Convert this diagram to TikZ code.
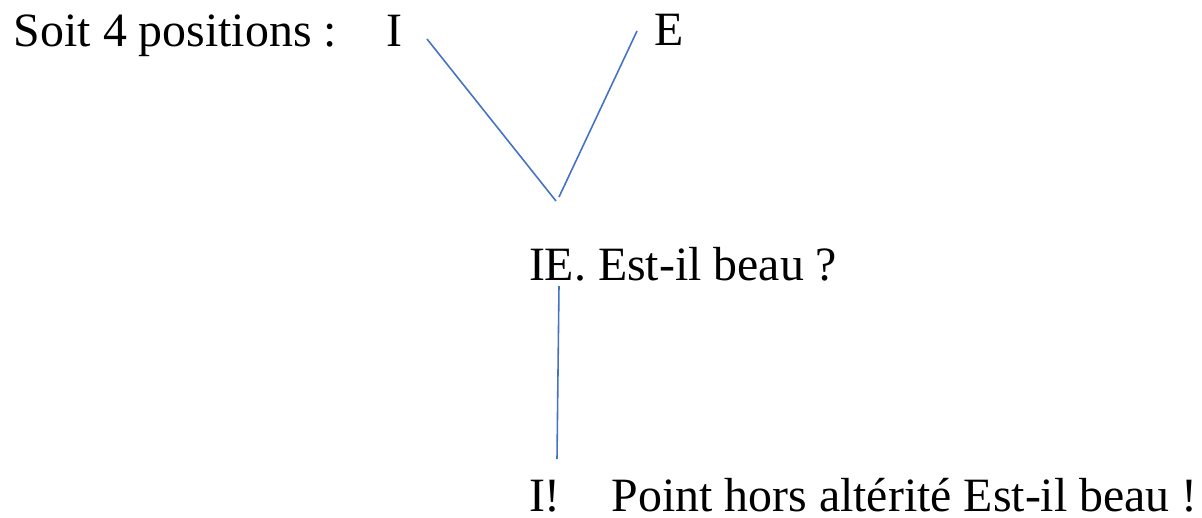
\documentclass[tikz,border=0pt]{standalone}
\usepackage{fontspec}
\setmainfont{Liberation Serif}
\usetikzlibrary{positioning}
\definecolor{posLine}{HTML}{4472C4}
\tikzset{
  posfig/.style={
    x=0.01cm, y=-0.01cm,
    every node/.append style={font=\fontsize{13.6}{16}\selectfont},
  },
  postext/.style={anchor=base west, inner sep=0pt, outer sep=0pt},
  link/.style={draw=posLine, line width=0.45pt},
}

\begin{document}
\begin{tikzpicture}[posfig]
  \useasboundingbox (0,0) rectangle (1202,517);
  \node[postext] (Intro) at (14,46) {Soit 4 positions :};
  \node[postext] (PosI) at (386,46) {I};
  \node[postext] (PosE) at (654,45) {E};
  \node[postext] (PosIE) at (529,280) {IE. Est-il beau ?};
  \node[postext] (PosPoint) at (529,511) {I!\hspace{0.51cm}Point hors alt\'erit\'e Est-il beau !};
  % extremites libres des traits
  \coordinate (fromI) at (427,39);
  \coordinate (fromE) at (637,31);
  \coordinate (toIEa) at (556,201);
  \coordinate (toIEb) at (559,197);
  \coordinate (downA) at (559,286);
  \coordinate (downB) at (557,459);
  \draw[link] (fromI) -- (toIEa);
  \draw[link] (fromE) -- (toIEb);
  \draw[link] (downA) -- (downB);
\end{tikzpicture}
\end{document}
